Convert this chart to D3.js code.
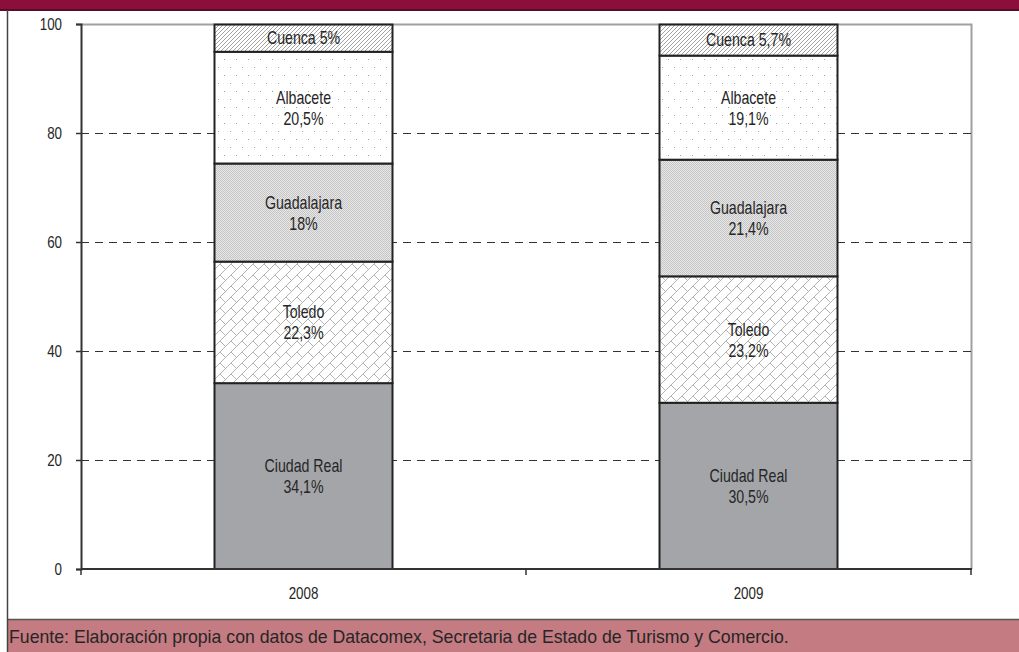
<!DOCTYPE html>
<html>
<head>
<meta charset="utf-8">
<script src="https://cdn.jsdelivr.net/npm/d3@7"></script>
<style>
  html, body { margin: 0; padding: 0; background: #fff; }
  svg { display: block; }
  text { font-family: "Liberation Sans", Arial, sans-serif; fill: #262626; }
</style>
</head>
<body>
<svg id="chart" width="1019" height="652"></svg>
<script>
// Exports by province, share of total (%)
const years = ["2008", "2009"];
const provinces = ["Ciudad Real", "Toledo", "Guadalajara", "Albacete", "Cuenca"];
const values2008 = [34.1, 22.3, 18, 20.5, 5];
const values2009 = [30.5, 23.2, 21.4, 19.1, 5.7];
const valueLabels2008 = ["34,1%", "22,3%", "18%", "20,5%", "5%"];
const valueLabels2009 = ["30,5%", "23,2%", "21,4%", "19,1%", "5,7%"];
const yTicks = [0, 20, 40, 60, 80, 100];
const sourceText = "Fuente: Elaboración propia con datos de Datacomex, Secretaria de Estado de Turismo y Comercio.";

const seriesValues = [values2008, values2009];
const seriesLabels = [valueLabels2008, valueLabels2009];

const W = 1019, H = 652;
const plot = { left: 81, right: 971, top: 24, bottom: 569 };
const NARROW = 0.81; // horizontal squeeze to get a narrow face from Liberation Sans

const svg = d3.select("#chart");
const defs = svg.append("defs");

// Fill patterns for each province
const pCuenca = defs.append("pattern").attr("id", "p-cuenca")
  .attr("patternUnits", "userSpaceOnUse").attr("width", 4).attr("height", 4);
pCuenca.append("rect").attr("width", 4).attr("height", 4).attr("fill", "#fff");
pCuenca.append("path").attr("d", "M-1,1 L1,-1 M0,4 L4,0 M3,5 L5,3")
  .attr("stroke", "#9a9a9a").attr("stroke-width", 0.9);

const pAlb = defs.append("pattern").attr("id", "p-albacete")
  .attr("patternUnits", "userSpaceOnUse").attr("width", 12).attr("height", 16);
pAlb.append("rect").attr("width", 12).attr("height", 16).attr("fill", "#fff");
pAlb.append("rect").attr("x", 2).attr("y", 3).attr("width", 1).attr("height", 1).attr("fill", "#a0a0a0");
pAlb.append("rect").attr("x", 8).attr("y", 11).attr("width", 1).attr("height", 1).attr("fill", "#a0a0a0");

const pGua = defs.append("pattern").attr("id", "p-guadalajara")
  .attr("patternUnits", "userSpaceOnUse").attr("width", 2).attr("height", 2);
pGua.append("rect").attr("width", 2).attr("height", 2).attr("fill", "#e8e8e8");
pGua.append("rect").attr("x", 0).attr("y", 0).attr("width", 1).attr("height", 1).attr("fill", "#c4c4c4");
pGua.append("rect").attr("x", 1).attr("y", 1).attr("width", 1).attr("height", 1).attr("fill", "#c4c4c4");

// diagonal brick: "/" rails with half-offset "\" joints
const pTol = defs.append("pattern").attr("id", "p-toledo")
  .attr("patternUnits", "userSpaceOnUse").attr("width", 11).attr("height", 11);
pTol.append("rect").attr("width", 11).attr("height", 11).attr("fill", "#fff");
pTol.append("path")
  .attr("d", "M-1,12 L12,-1 M-1,1 L1,-1 M10,12 L12,10 M0,0 L5.5,5.5 M11,0 L16.5,5.5")
  .attr("stroke", "#b3b3b3").attr("stroke-width", 1).attr("fill", "none");

const fills = {
  "Ciudad Real": "#a4a5a9",
  "Toledo": "url(#p-toledo)",
  "Guadalajara": "url(#p-guadalajara)",
  "Albacete": "url(#p-albacete)",
  "Cuenca": "url(#p-cuenca)"
};

// Page frame: header band, left border, footer band
svg.append("rect").attr("x", 0).attr("y", 0).attr("width", W).attr("height", 10).attr("fill", "#8c0e3b");
svg.append("rect").attr("x", 0).attr("y", 9).attr("width", W).attr("height", 2).attr("fill", "#5a0b27");
svg.append("rect").attr("x", 7).attr("y", 619).attr("width", W - 7).attr("height", H - 619).attr("fill", "#c47b81");
svg.append("line").attr("x1", 7).attr("x2", W).attr("y1", 619.5).attr("y2", 619.5).attr("stroke", "#555").attr("stroke-width", 1.5);
svg.append("line").attr("x1", 7.5).attr("x2", 7.5).attr("y1", 10).attr("y2", H).attr("stroke", "#444").attr("stroke-width", 1.5);

// Scales
const x = d3.scaleBand().domain(years).range([plot.left, plot.right]);
const y = d3.scaleLinear().domain([0, 100]).range([plot.bottom, plot.top]);
const barW = x.bandwidth() * 0.4;

// Plot frame (top & right)
svg.append("path")
  .attr("d", `M${plot.left},${plot.top + 0.5} H${plot.right + 0.5} V${plot.bottom}`)
  .attr("fill", "none").attr("stroke", "#a0a0a0").attr("stroke-width", 2);

// Dashed gridlines
svg.append("g").selectAll("line")
  .data(yTicks.filter(d => d > 0 && d < 100))
  .join("line")
  .attr("x1", plot.left).attr("x2", plot.right)
  .attr("y1", d => Math.round(y(d)) + 0.5).attr("y2", d => Math.round(y(d)) + 0.5)
  .attr("stroke", "#333").attr("stroke-width", 1)
  .attr("stroke-dasharray", "8,6");

// Stacked bars
const stackData = years.map((yr, i) => {
  let acc = 0;
  return provinces.map((p, j) => {
    const v = seriesValues[i][j];
    const seg = { year: yr, province: p, y0: acc, y1: acc + v, label: seriesLabels[i][j] };
    acc += v;
    return seg;
  });
}).flat();

const barsG = svg.append("g");
barsG.selectAll("rect")
  .data(stackData)
  .join("rect")
  .attr("x", d => x(d.year) + x.bandwidth() / 2 - barW / 2)
  .attr("width", barW)
  .attr("y", d => y(d.y1))
  .attr("height", d => y(d.y0) - y(d.y1))
  .attr("fill", d => fills[d.province])
  .attr("stroke", "#222").attr("stroke-width", 2);

// Narrow text helper
function narrowText(g, tx, ty, str, size, anchor) {
  return g.append("text")
    .attr("transform", `translate(${tx},${ty}) scale(${NARROW},1)`)
    .attr("font-size", size).attr("text-anchor", anchor || "middle")
    .text(str);
}

// Segment labels
const labelsG = svg.append("g");
stackData.forEach(d => {
  const cx = x(d.year) + x.bandwidth() / 2;
  const cy = (y(d.y0) + y(d.y1)) / 2;
  if (d.province === "Cuenca") {
    narrowText(labelsG, cx, cy + 6, `${d.province} ${d.label}`, 17.5);
  } else {
    narrowText(labelsG, cx, cy - 4, d.province, 17.5);
    narrowText(labelsG, cx, cy + 17, d.label, 17.5);
  }
});

// Y axis
const yAxis = d3.axisLeft(y).tickValues(yTicks).tickSize(5).tickFormat("");
const gy = svg.append("g").attr("transform", `translate(${plot.left},0)`).call(yAxis);
gy.select(".domain").attr("stroke", "#333").attr("stroke-width", 2);
gy.selectAll(".tick line").attr("stroke", "#333").attr("stroke-width", 1.5);
const yLabG = svg.append("g");
yTicks.forEach(t => narrowText(yLabG, 62, y(t) + 6, String(t), 16.5, "end"));

// X axis
const gx = svg.append("g").attr("transform", `translate(0,${plot.bottom})`);
gx.append("line").attr("x1", plot.left).attr("x2", plot.right + 1)
  .attr("y1", 0).attr("y2", 0).attr("stroke", "#333").attr("stroke-width", 2);
const xBoundaries = [plot.left, ...years.slice(1).map(d => x(d)), plot.right];
gx.selectAll("line.tk").data(xBoundaries).join("line").attr("class", "tk")
  .attr("x1", d => d).attr("x2", d => d).attr("y1", 0).attr("y2", 6)
  .attr("stroke", "#333").attr("stroke-width", 1.5);
years.forEach(d => narrowText(gx, x(d) + x.bandwidth() / 2, 30, d, 16.5));

// Source note
svg.append("text").attr("x", 9).attr("y", 643).attr("font-size", 17.7)
  .text(sourceText);
</script>
</body>
</html>
